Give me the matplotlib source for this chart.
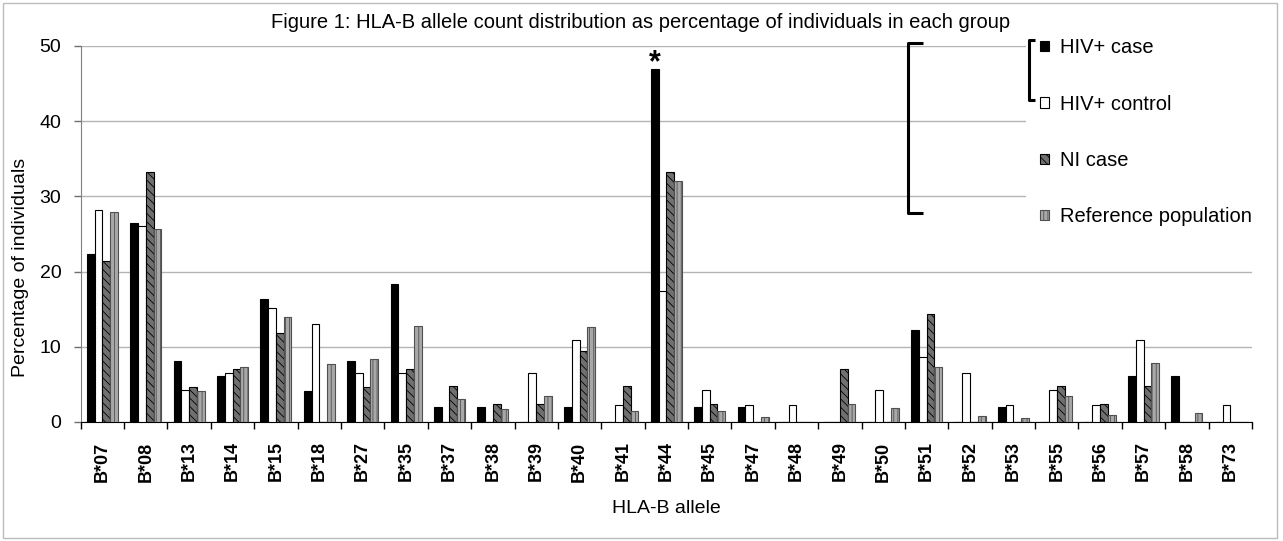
import matplotlib
matplotlib.use("Agg")
import matplotlib.pyplot as plt
from matplotlib.lines import Line2D
from matplotlib.patches import Rectangle
import numpy as np

plt.rcParams['font.family'] = ['Liberation Sans', 'DejaVu Sans']
plt.rcParams['hatch.linewidth'] = 0.6

alleles = ["B*07", "B*08", "B*13", "B*14", "B*15", "B*18", "B*27", "B*35", "B*37",
           "B*38", "B*39", "B*40", "B*41", "B*44", "B*45", "B*47", "B*48", "B*49",
           "B*50", "B*51", "B*52", "B*53", "B*55", "B*56", "B*57", "B*58", "B*73"]
hiv_case = [22.4, 26.4, 8.1, 6.1, 16.3, 4.1, 8.1, 18.4, 2.0, 2.0, 0, 2.0, 0, 46.9,
            2.0, 2.0, 0, 0, 0, 12.2, 0, 2.0, 0, 0, 6.1, 6.1, 0]
hiv_control = [28.2, 26.0, 4.3, 6.5, 15.2, 13.0, 6.5, 6.5, 0, 0, 6.5, 10.9, 2.2, 17.4,
               4.3, 2.2, 2.2, 0, 4.3, 8.7, 6.5, 2.2, 4.3, 2.2, 10.9, 0, 2.2]
ni_case = [21.4, 33.3, 4.7, 7.1, 11.9, 0, 4.7, 7.1, 4.8, 2.4, 2.4, 9.5, 4.8, 33.3,
           2.4, 0, 0, 7.1, 0, 14.3, 0, 0, 4.8, 2.4, 4.8, 0, 0]
reference = [27.9, 25.6, 4.1, 7.3, 14.0, 7.7, 8.4, 12.7, 3.0, 1.7, 3.4, 12.6, 1.4, 32.0,
             1.4, 0.6, 0, 2.4, 1.8, 7.3, 0.8, 0.5, 3.5, 0.9, 7.9, 1.2, 0]
series_labels = ["HIV+ case", "HIV+ control", "NI case", "Reference population"]
yticks = [0, 10, 20, 30, 40, 50]

W, H = 1283, 541
fig = plt.figure(figsize=(W / 100, H / 100), dpi=100)
ax = fig.add_axes([80.7 / W, 1 - 422 / H, (1252 - 80.7) / W, (422 - 46) / H])

x = np.arange(len(alleles))
bw = 0.179
styles = [
    dict(color='black', edgecolor='black', hatch=None),
    dict(color='white', edgecolor='black', hatch=None),
    dict(color='#707070', edgecolor='black', hatch='\\\\\\\\'),
    dict(color='#a8a8a8', edgecolor='#505050', hatch='||||'),
]
data = [hiv_case, hiv_control, ni_case, reference]
containers = []
for i, (vals, st, lab) in enumerate(zip(data, styles, series_labels)):
    c = ax.bar(x + (i - 1.5) * bw, vals, width=bw, facecolor=st['color'],
               edgecolor=st['edgecolor'], hatch=st['hatch'], linewidth=0.8,
               label=lab, zorder=3)
    containers.append(c)

ax.set_xlim(-0.5, len(alleles) - 0.5)
ax.set_ylim(0, 50)
ax.set_yticks(yticks)
ax.yaxis.grid(True, color='#b4b4b4', linewidth=1.0, zorder=0)
ax.set_axisbelow(True)

ax.set_xticks(x)
ax.set_xticklabels(alleles, rotation=90, fontsize=13, fontweight='bold')
ax.set_xticks(np.arange(len(alleles) + 1) - 0.5, minor=True)
ax.tick_params(axis='x', which='major', length=0, pad=14)
ax.tick_params(axis='x', which='minor', length=5, width=1, direction='out', color='black')
ax.tick_params(axis='y', labelsize=14, length=5, width=1, direction='out', color='#707070', pad=9)

for s in ['top', 'right']:
    ax.spines[s].set_visible(False)
ax.spines['left'].set_color('#808080')
ax.spines['bottom'].set_color('black')

ax.set_ylabel("Percentage of individuals", fontsize=14)
ax.yaxis.set_label_coords(-0.0445, 0.41)
ax.set_xlabel("HLA-B allele", fontsize=14, labelpad=13)

# asterisk above the HIV+ case bar of B*44
i44 = alleles.index("B*44")
ax.text(x[i44] - 1.5 * bw, hiv_case[i44] - 1.2, "*", ha='center', va='bottom',
        fontsize=22, fontweight='bold')

fig.text(641 / W, 1 - 22 / H, "Figure 1: HLA-B allele count distribution as percentage of individuals in each group",
         ha='center', va='center', fontsize=14.5)

leg = ax.legend(handles=containers, loc='upper left',
                bbox_to_anchor=(1026 / W, 1 - 24 / H), bbox_transform=fig.transFigure,
                fontsize=14.5, frameon=True, facecolor='white', edgecolor='none', framealpha=1,
                handlelength=0.42, handleheight=0.42, handletextpad=0.55,
                labelspacing=1.86, borderpad=0.7, borderaxespad=0)
leg.set_zorder(10)

# brackets (figure pixel coordinates)
def fx(px):
    return px / W

def fy(py):
    return 1 - py / H

def bracket(xv, xt, y0, y1):
    xs = [fx(xt), fx(xv), fx(xv), fx(xt)]
    ys = [fy(y0), fy(y0), fy(y1), fy(y1)]
    fig.add_artist(Line2D(xs, ys, color='black', linewidth=2.2, zorder=20,
                          solid_joinstyle='round', solid_capstyle='butt'))

bracket(908, 923, 43, 213)
bracket(1029, 1035, 40, 100)

fig.add_artist(Rectangle((fx(3), fy(538)), fx(1277) - fx(3), fy(3) - fy(538),
                         fill=False, edgecolor='#bcbcbc', linewidth=1.0, zorder=0))

fig.savefig("out.png", dpi=100)
